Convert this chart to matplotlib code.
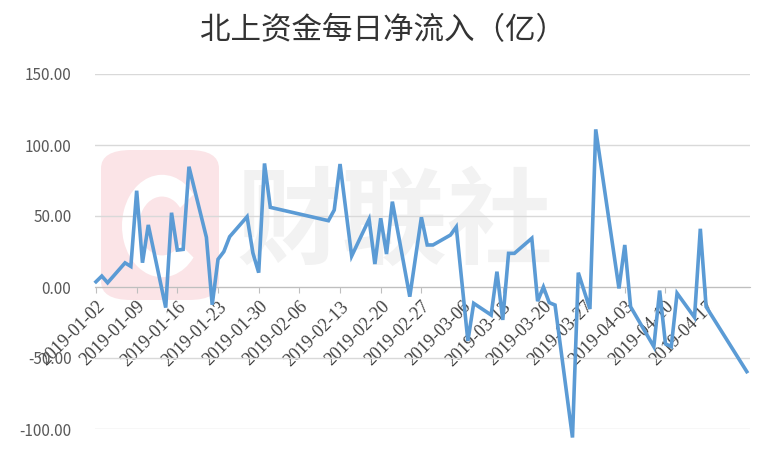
import matplotlib
matplotlib.use('Agg')
import matplotlib.pyplot as plt
import matplotlib.dates as mdates
from matplotlib.patches import FancyBboxPatch, Wedge
from matplotlib.transforms import Affine2D
import pandas as pd

# 北上资金每日净流入（亿）
dates = ['2019-01-02', '2019-01-03', '2019-01-04', '2019-01-07', '2019-01-08',
         '2019-01-09', '2019-01-10', '2019-01-11', '2019-01-14', '2019-01-15',
         '2019-01-16', '2019-01-17', '2019-01-18', '2019-01-21', '2019-01-22',
         '2019-01-23', '2019-01-24', '2019-01-25', '2019-01-28', '2019-01-29',
         '2019-01-30', '2019-01-31', '2019-02-01', '2019-02-11', '2019-02-12',
         '2019-02-13', '2019-02-15', '2019-02-18', '2019-02-19', '2019-02-20',
         '2019-02-21', '2019-02-22', '2019-02-25', '2019-02-27', '2019-02-28',
         '2019-03-01', '2019-03-04', '2019-03-05', '2019-03-07', '2019-03-08',
         '2019-03-11', '2019-03-12', '2019-03-13', '2019-03-14', '2019-03-15',
         '2019-03-18', '2019-03-19', '2019-03-20', '2019-03-21', '2019-03-22',
         '2019-03-25', '2019-03-26', '2019-03-28', '2019-03-29', '2019-04-02',
         '2019-04-03', '2019-04-04', '2019-04-08', '2019-04-09', '2019-04-10',
         '2019-04-11', '2019-04-12', '2019-04-15', '2019-04-16', '2019-04-17',
         '2019-04-24']
inflow = [3.7, 7.7, 3.0, 17.0, 14.5,
          67.8, 17.1, 43.7, -14.5, 52.3,
          26.0, 26.5, 84.7, 35.0, -12.5,
          19.5, 24.9, 35.4, 49.5, 24.0,
          10.1, 87.0, 56.1, 46.7, 54.2,
          86.6, 21.8, 47.7, 16.2, 48.4,
          23.2, 60.1, -6.8, 49.1, 29.6,
          29.6, 36.6, 42.3, -38.0, -11.5,
          -19.7, 10.8, -23.2, 23.7, 23.7,
          34.3, -10.0, 0.0, -11.0, -12.7,
          -106.0, 10.1, -15.5, 111.0, -1.0,
          29.6, -13.9, -42.0, -2.5, -40.0,
          -42.0, -4.4, -21.4, 41.0, -13.9,
          -59.6]
yticks = [-100, -50, 0, 50, 100, 150]
title = '北上资金每日净流入（亿）'

x = pd.to_datetime(dates)
tick_dates = pd.date_range('2019-01-02', '2019-04-17', freq='7D')

plt.rcParams['font.family'] = ['Noto Sans CJK SC', 'DejaVu Sans']

fig = plt.figure(figsize=(7.57, 4.59), dpi=100)
ax = fig.add_axes([95 / 757, 1 - 429 / 459, 655 / 757, 355 / 459])

# 水印 (画在坐标区里, 线条之下)
tf = fig.transFigure
ax.add_patch(FancyBboxPatch((101 / 757, 1 - 300 / 459), 118 / 757, 150 / 459,
                            boxstyle='round,pad=0,rounding_size=0.04',
                            transform=tf, facecolor='#fbe4e7', edgecolor='none',
                            zorder=0.1, clip_on=False))
ring_tf = Affine2D().scale(1, 1.28).translate(162, 459 - 226)
ax.add_patch(Wedge((0, 0), 40, 38, 322, width=17, transform=ring_tf,
                   facecolor='white', edgecolor='none', zorder=0.2, clip_on=False))
ax.text(395 / 757, 1 - 225 / 459, '财联社', transform=tf, fontsize=76, fontweight='bold',
        color='#f2f2f2', ha='center', va='center', zorder=0.2)

ax.plot(x, inflow, color='#5b9bd5', linewidth=2.6, solid_joinstyle='miter',
        zorder=3, clip_on=False)

start = pd.Timestamp('2019-01-02')
ax.set_xlim(start - pd.Timedelta(days=0.17), start + pd.Timedelta(days=112.55))
ax.set_ylim(-100, 150)
ax.set_yticks(yticks)
ax.set_yticklabels([f'{v:.2f}' for v in yticks])
ax.yaxis.grid(True, color='#d9d9d9', linewidth=1, zorder=0.5)
ax.set_axisbelow(True)
ax.tick_params(axis='y', length=0, pad=17, labelsize=11, labelcolor='#595959')

for s in ['left', 'right', 'top']:
    ax.spines[s].set_visible(False)
ax.spines['bottom'].set_position(('data', 0))
ax.spines['bottom'].set_color('#bfbfbf')
ax.spines['bottom'].set_zorder(1)

ax.set_xticks(tick_dates)
ax.xaxis.set_major_formatter(mdates.DateFormatter('%Y-%m-%d'))
ax.tick_params(axis='x', direction='out', length=4, color='#bfbfbf', pad=4)
for lab in ax.get_xticklabels():
    lab.set_rotation(45)
    lab.set_ha('right')
    lab.set_va('top')
    lab.set_rotation_mode('anchor')
    lab.set_fontfamily('Liberation Serif')
    lab.set_fontsize(13)
    lab.set_color('#404040')

fig.text(383 / 757, 1 - 31 / 459, title, fontsize=22, ha='center', va='center', color='#333333')

fig.savefig('out.png', dpi=100)
